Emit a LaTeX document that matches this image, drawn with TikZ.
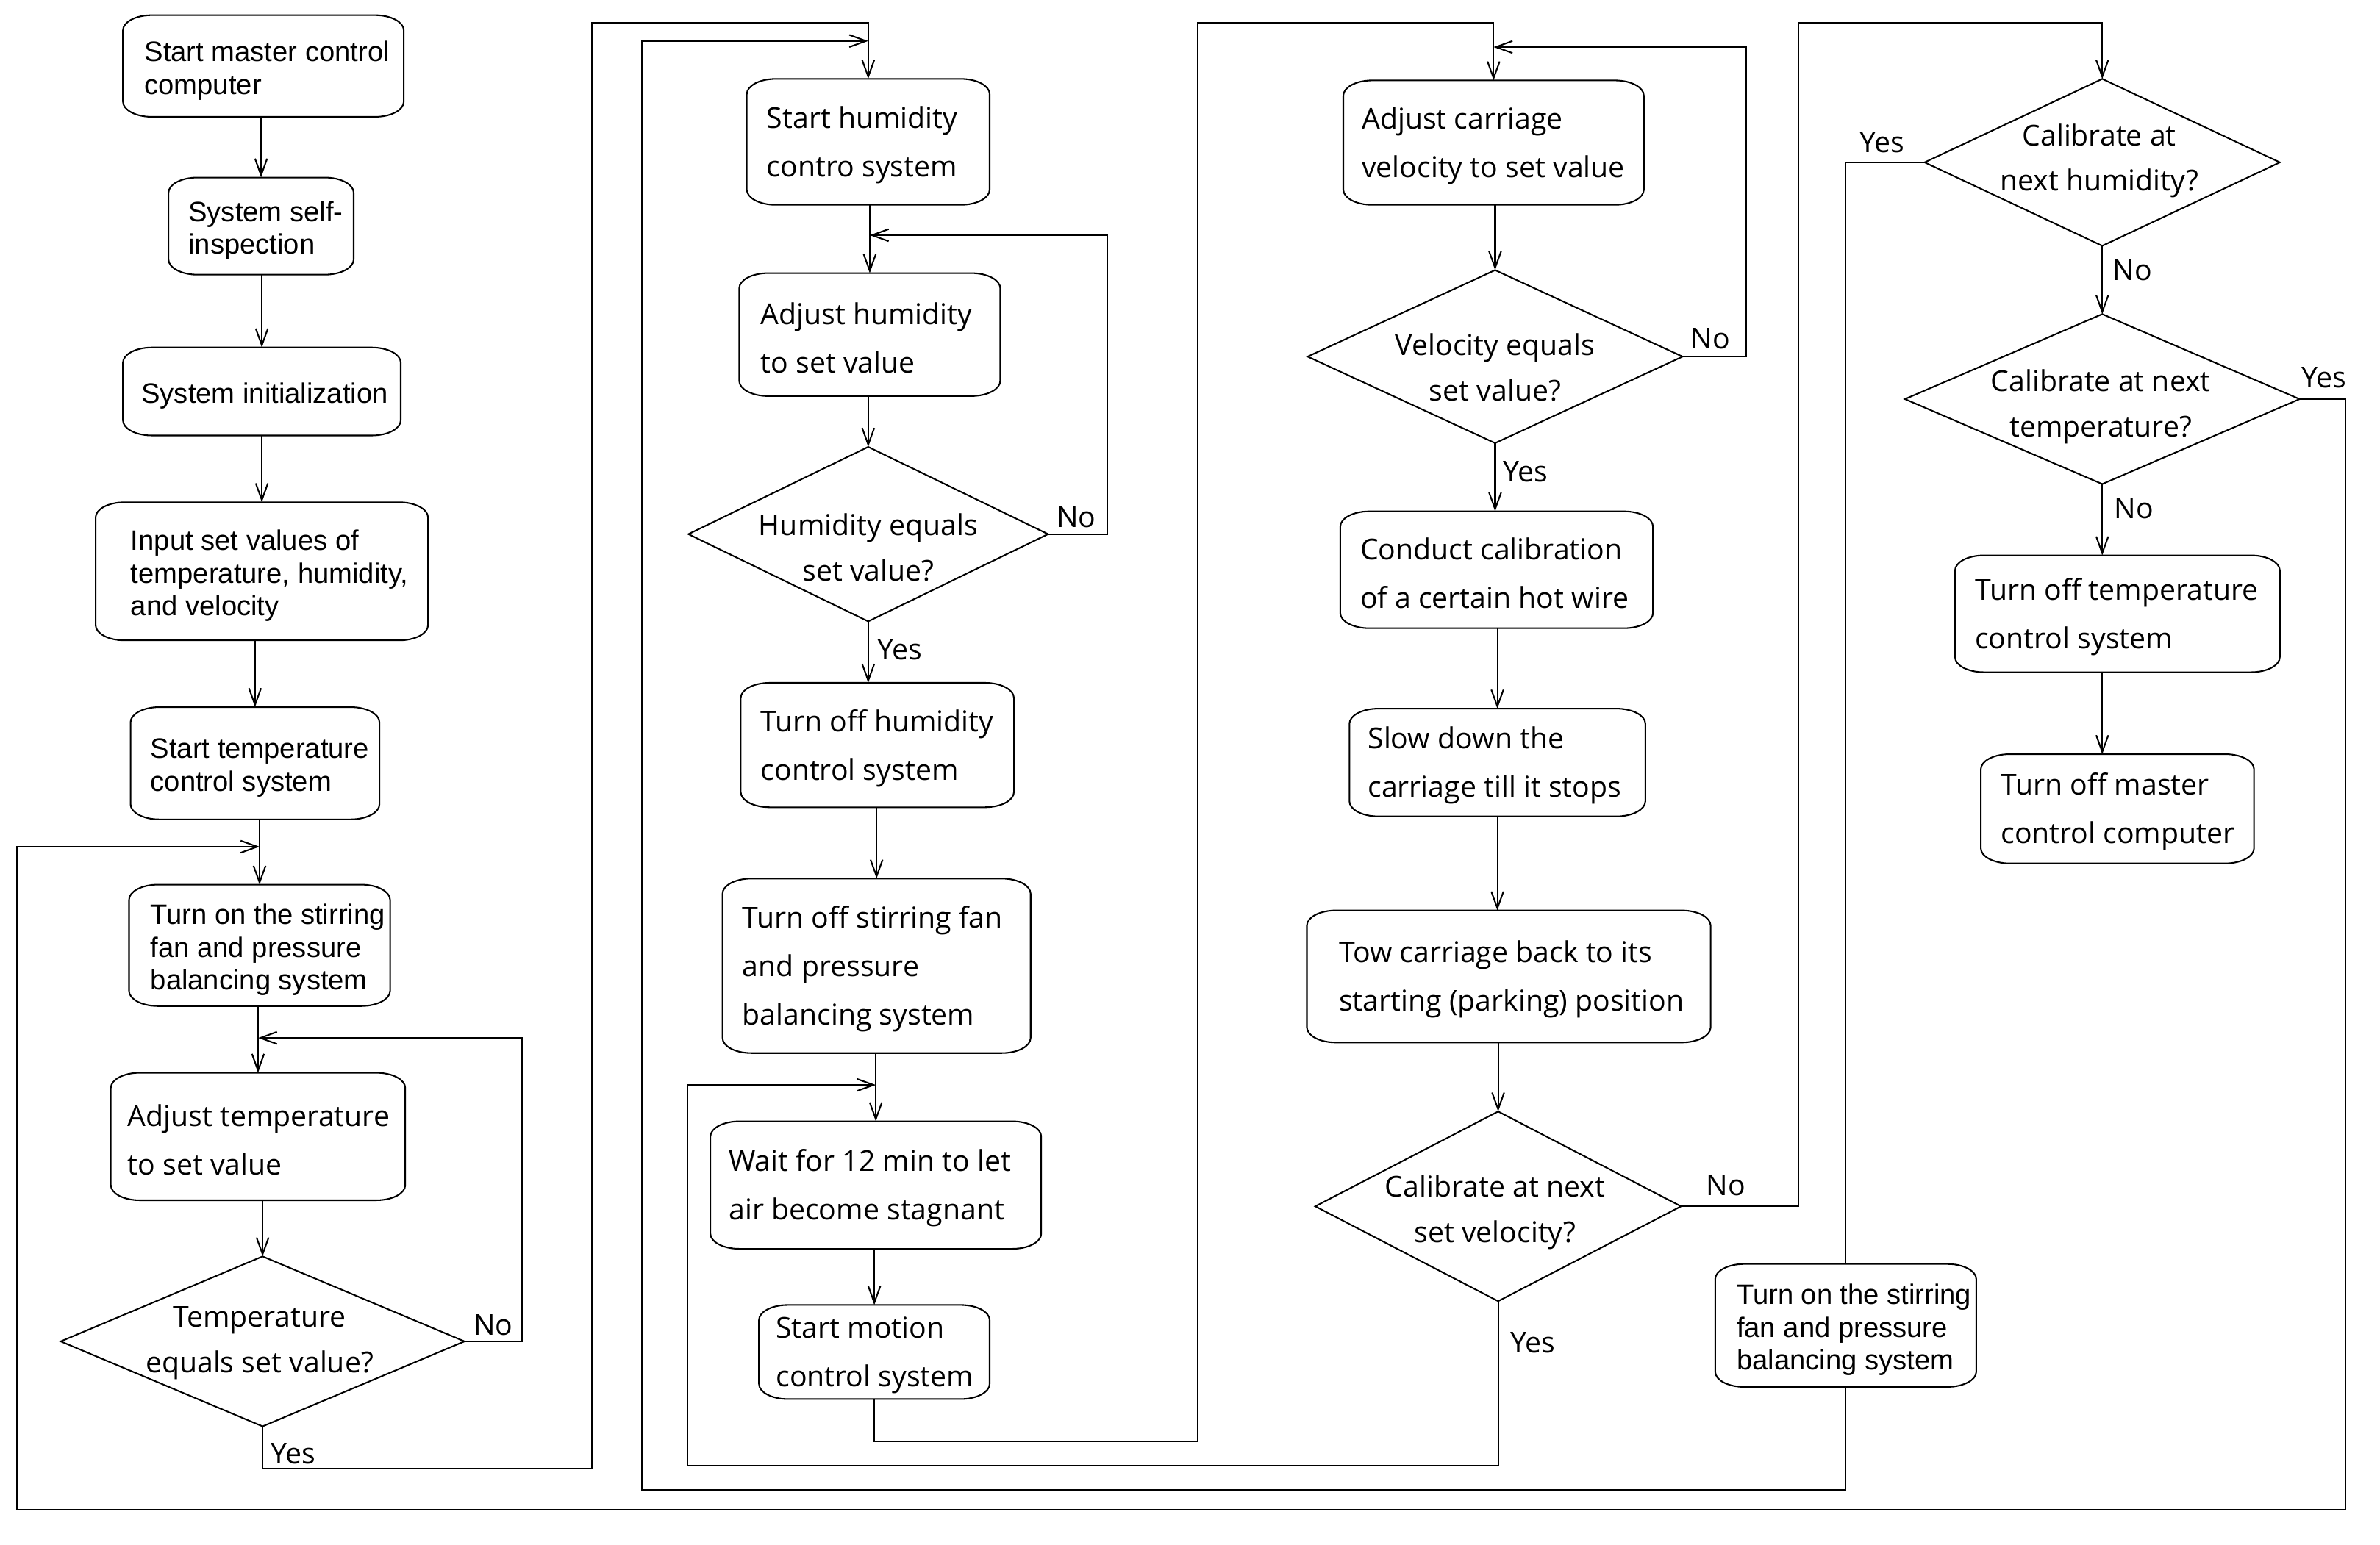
\documentclass[tikz,border=0pt]{standalone}
\usepackage{fontspec}
\newfontfamily\segoef{Open Sans}
\newfontfamily\arialf{Liberation Sans}
\usetikzlibrary{arrows.meta,calc,shapes.geometric}
\begin{document}
\begin{tikzpicture}[x=1pt,y=-1pt,
  lw/.style={line width=1pt},
  box/.style={draw=none, inner sep=0pt, outer sep=0pt},
  atext/.style={inner sep=0pt, anchor=west, align=left, yshift=-3pt, font=\arialf\fontsize{18.5pt}{21.5pt}\selectfont},
  stext/.style={inner sep=0pt, anchor=west, align=left, yshift=-2pt, font=\segoef\fontsize{19pt}{32pt}\selectfont},
  dia/.style={diamond, draw, lw, inner sep=0pt, outer sep=0pt},
  dtext/.style={inner sep=0pt, align=center, font=\segoef\fontsize{19pt}{30pt}\selectfont},
  lbl/.style={inner sep=0pt, font=\segoef\fontsize{19pt}{22pt}\selectfont},
  arr/.style={draw, lw, -{Straight Barb[length=11pt,width=8pt]}},
  conn/.style={draw, lw},
  outline/.style={draw, lw}
]
\fill[white] (0,0) rectangle (1568,1018);
\useasboundingbox (0,0) rectangle (1568,1018);

% ---------- column 1 ----------
\node[box, minimum width=185pt, minimum height=67pt] (b1) at (173.5,43.5) {};
\node[atext] (b1t) at ($(b1.west)+(14,0)$) {Start master control\\computer};
\node[box, minimum width=122pt, minimum height=64pt] (b2) at (172,149) {};
\node[atext] (b2t) at ($(b2.west)+(13,0)$) {System self-\\inspection};
\node[box, minimum width=183pt, minimum height=58pt] (b3) at (172.5,258) {};
\node[atext] (b3t) at ($(b3.west)+(12,0)$) {System initialization};
\node[box, minimum width=219pt, minimum height=91pt] (b4) at (172.5,376.5) {};
\node[atext] (b4t) at ($(b4.west)+(23,0)$) {Input set values of\\temperature, humidity,\\and velocity};
\node[box, minimum width=164pt, minimum height=74pt] (b5) at (168,503) {};
\node[atext] (b5t) at ($(b5.west)+(13,0)$) {Start temperature\\control system};
\node[box, minimum width=172pt, minimum height=80pt] (b6) at (171,623) {};
\node[atext] (b6t) at ($(b6.west)+(14,0)$) {Turn on the stirring\\fan and pressure\\balancing system};
\node[box, minimum width=194pt, minimum height=84pt] (b7) at (170,749) {};
\node[stext] (b7t) at ($(b7.west)+(11,0)$) {Adjust temperature\\to set value};
\node[dia, minimum width=266pt, minimum height=112pt] (d1) at (173,884) {};
\node[dtext] (d1t) at (171,885) {Temperature\\equals set value?};

% ---------- column 2 ----------
\node[box, minimum width=160pt, minimum height=83pt] (b8) at (572,93.5) {};
\node[stext] (b8t) at ($(b8.west)+(13,0)$) {Start humidity\\contro system};
\node[box, minimum width=172pt, minimum height=81pt] (b9) at (573,220.5) {};
\node[stext] (b9t) at ($(b9.west)+(14,0)$) {Adjust humidity\\to set value};
\node[dia, minimum width=237pt, minimum height=115pt] (d2) at (572,352) {};
\node[dtext] (d2t) at (572,361) {Humidity equals\\set value?};
\node[box, minimum width=180pt, minimum height=82pt] (b10) at (578,491) {};
\node[stext] (b10t) at ($(b10.west)+(13,0)$) {Turn off humidity\\control system};
\node[box, minimum width=203pt, minimum height=115pt] (b11) at (577.5,636.5) {};
\node[stext] (b11t) at ($(b11.west)+(13,0)$) {Turn off stirring fan\\and pressure\\balancing system};
\node[box, minimum width=218pt, minimum height=84pt] (b12) at (577,781) {};
\node[stext] (b12t) at ($(b12.west)+(12,0)$) {Wait for 12 min to let\\air become stagnant};
\node[box, minimum width=152pt, minimum height=62pt] (b13) at (576,891) {};
\node[stext] (b13t) at ($(b13.west)+(11,0)$) {Start motion\\control system};

% ---------- column 3 ----------
\node[box, minimum width=198pt, minimum height=82pt] (b14) at (984,94) {};
\node[stext] (b14t) at ($(b14.west)+(12,0)$) {Adjust carriage\\velocity to set value};
\node[dia, minimum width=247pt, minimum height=114pt] (d3) at (985,235) {};
\node[dtext] (d3t) at (985,242) {Velocity equals\\set value?};
\node[box, minimum width=206pt, minimum height=77pt] (b15) at (986,375.5) {};
\node[stext] (b15t) at ($(b15.west)+(13,0)$) {Conduct calibration\\of a certain hot wire};
\node[box, minimum width=195pt, minimum height=71pt] (b16) at (986.5,502.5) {};
\node[stext] (b16t) at ($(b16.west)+(12,0)$) {Slow down the\\carriage till it stops};
\node[box, minimum width=266pt, minimum height=87pt] (b17) at (994,643.5) {};
\node[stext] (b17t) at ($(b17.west)+(21,0)$) {Tow carriage back to its\\starting (parking) position};
\node[dia, minimum width=241pt, minimum height=125pt] (d4) at (987,795) {};
\node[dtext] (d4t) at (985,799) {Calibrate at next\\set velocity?};

% ---------- column 4 ----------
\node[dia, minimum width=234pt, minimum height=110pt] (d5) at (1385,107) {};
\node[dtext] (d5t) at (1383,106) {Calibrate at\\next humidity?};
\node[dia, minimum width=260pt, minimum height=112pt] (d6) at (1385,263) {};
\node[dtext] (d6t) at (1384,268) {Calibrate at next\\temperature?};
\node[box, minimum width=214pt, minimum height=77pt] (b18) at (1395,404.5) {};
\node[stext] (b18t) at ($(b18.west)+(13,0)$) {Turn off temperature\\control system};
\node[box, minimum width=180pt, minimum height=72pt] (b19) at (1395,533) {};
\node[stext] (b19t) at ($(b19.west)+(13,0)$) {Turn off master\\control computer};
\node[box, minimum width=172pt, minimum height=81pt] (b20) at (1216,873.5) {};
\node[atext] (b20t) at ($(b20.west)+(14,0)$) {Turn on the stirring\\fan and pressure\\balancing system};

% ---------- rounded outlines (elliptic corners) ----------
\def\rx{19}\def\ry{10}\def\cx{8.5}\def\cy{4.5}
\foreach \n in {b1,b2,b3,b4,b5,b6,b7,b8,b9,b10,b11,b12,b13,b14,b15,b16,b17,b18,b19,b20}{
  \draw[outline] ($(\n.north west)+(\rx,0)$) -- ($(\n.north east)+(-\rx,0)$)
    .. controls ($(\n.north east)+(-\cx,0)$) and ($(\n.north east)+(0,\cy)$) .. ($(\n.north east)+(0,\ry)$)
    -- ($(\n.south east)+(0,-\ry)$)
    .. controls ($(\n.south east)+(0,-\cy)$) and ($(\n.south east)+(-\cx,0)$) .. ($(\n.south east)+(-\rx,0)$)
    -- ($(\n.south west)+(\rx,0)$)
    .. controls ($(\n.south west)+(\cx,0)$) and ($(\n.south west)+(0,-\cy)$) .. ($(\n.south west)+(0,-\ry)$)
    -- ($(\n.north west)+(0,\ry)$)
    .. controls ($(\n.north west)+(0,\cy)$) and ($(\n.north west)+(\cx,0)$) .. ($(\n.north west)+(\rx,0)$) -- cycle;
}

% ---------- labels ----------
\node[lbl] (l1) at (325,873) {No};
\node[lbl] (l2) at (193,958) {Yes};
\node[lbl] (l3) at (709,341) {No};
\node[lbl] (l4) at (593,428) {Yes};
\node[lbl] (l5) at (1127,223) {No};
\node[lbl] (l6) at (1005,311) {Yes};
\node[lbl] (l7) at (1137,781) {No};
\node[lbl] (l8) at (1010,885) {Yes};
\node[lbl] (l9) at (1240,94) {Yes};
\node[lbl] (l10) at (1405,178) {No};
\node[lbl] (l11) at (1531,249) {Yes};
\node[lbl] (l12) at (1406,335) {No};

% ---------- join / bend coordinates ----------
\coordinate (jt) at (170,684);
\coordinate (js) at (171,558);
\coordinate (jh) at (573,155);
\coordinate (jhs) at (572,27);
\coordinate (jw) at (577,715);
\coordinate (jv) at (984,31);
\coordinate (k1) at (390,968);
\coordinate (k2) at (390,15);
\coordinate (o1) at (1545,995);
\coordinate (o2) at (11,995);
\coordinate (p1) at (423,982);
\coordinate (q1) at (789,950);
\coordinate (q2) at (789,15);
\coordinate (r1) at (453,966);
\coordinate (s1) at (1185,15);

% ---------- straight arrows ----------
\draw[arr] (b2.north |- b1.south) -- (b2.north);
\draw[arr] (b3.north |- b2.south) -- (b3.north);
\draw[arr] (b4.north |- b3.south) -- (b4.north);
\draw[arr] (b5.north |- b4.south) -- (b5.north);
\draw[arr] (b6.north |- b5.south) -- (b6.north);
\draw[arr] (b7.north |- b6.south) -- (b7.north);
\draw[arr] (d1.north |- b7.south) -- (d1.north);

\draw[arr] (b9.north |- b8.south) -- (b9.north);
\draw[arr] (d2.north |- b9.south) -- (d2.north);
\draw[arr] (d2.south) -- (d2.south |- b10.north);
\draw[arr] (b11.north |- b10.south) -- (b11.north);
\draw[arr] (b12.north |- b11.south) -- (b12.north);
\draw[arr] (b13.north |- b12.south) -- (b13.north);

\draw[arr] (d3.north |- b14.south) -- (d3.north);
\draw[arr] (d3.south) -- (d3.south |- b15.north);
\draw[arr] (b16.north |- b15.south) -- (b16.north);
\draw[arr] (b16.south) -- (b16.south |- b17.north);
\draw[arr] (d4.north |- b17.south) -- (d4.north);

\draw[arr] (d5.south) -- (d6.north);
\draw[arr] (d6.south) -- (d6.south |- b18.north);
\draw[arr] (d6.south |- b18.south) -- (d6.south |- b19.north);

% ---------- loops and long connectors ----------
\draw[arr] (d1.east) -- ++(38,0) |- (jt);
\draw[arr] (d1.south) |- (k1) -- (k2) -| (b8.north);
\draw[arr] (d2.east) -- ++(39,0) |- (jh);
\draw[arr] (b13.south) |- (q1) -- (q2) -| (b14.north);
\draw[arr] (d3.east) -- ++(42,0) |- (jv);
\draw[arr] (d4.south) |- (r1) |- (jw);
\draw[arr] (d4.east) -| (s1) -| (d5.north);
\draw[conn] (d5.west) -| (b20.north);
\draw[arr] (d6.east) -| (o1) -- (o2) |- (js);
\draw[arr] (b20.south) |- (p1) |- (jhs);
\end{tikzpicture}
\end{document}
